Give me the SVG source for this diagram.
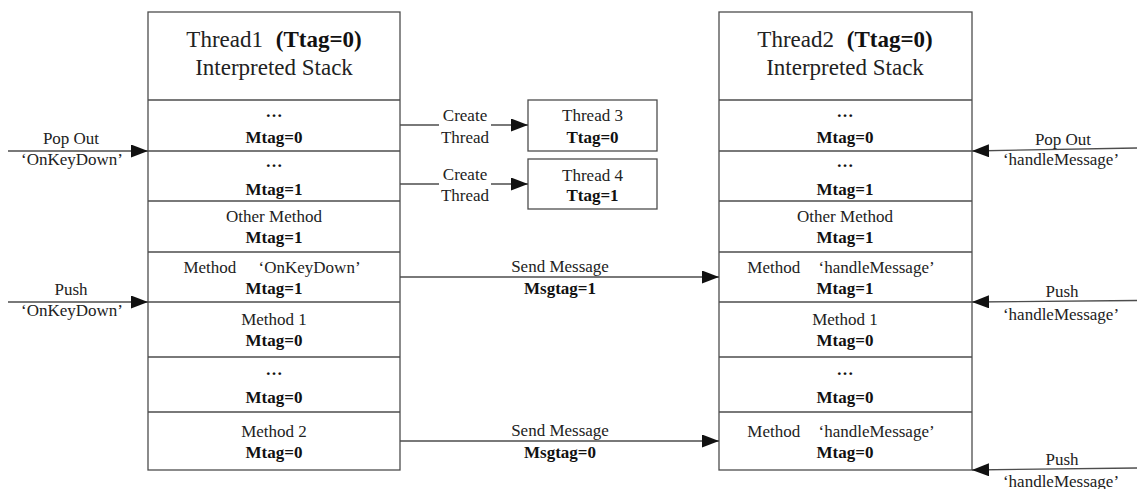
<svg xmlns="http://www.w3.org/2000/svg" width="1137" height="489" viewBox="0 0 1137 489">
  <style>
    .box { fill: #ffffff; stroke: #4d4d4d; stroke-width: 1.3; }
    .wire { fill: none; stroke: #4d4d4d; stroke-width: 1.3; }
    .txt { font-family: "Liberation Serif", "Times New Roman", serif; font-size: 17px; fill: #222222; text-anchor: middle; }
    .head { font-size: 23px; }
    .b { font-weight: bold; fill: #111111; }
    .mask { fill: #ffffff; stroke: none; }
  </style>
  <defs>
    <marker id="arrow" markerUnits="userSpaceOnUse" markerWidth="18" markerHeight="14" refX="17" refY="6.5" orient="auto">
      <path d="M0,0 L17,6.5 L0,13 Z" fill="#111111"/>
    </marker>
  </defs>

  <rect width="1137" height="489" fill="#ffffff"/>

  <!-- Thread 1 interpreted stack -->
  <g id="thread1-stack">
    <rect class="box" x="148" y="12" width="252" height="458"/>
    <g class="wire">
      <line x1="148" y1="100" x2="400" y2="100"/>
      <line x1="148" y1="151" x2="400" y2="151"/>
      <line x1="148" y1="201" x2="400" y2="201"/>
      <line x1="148" y1="252" x2="400" y2="252"/>
      <line x1="148" y1="302" x2="400" y2="302"/>
      <line x1="148" y1="357" x2="400" y2="357"/>
      <line x1="148" y1="412" x2="400" y2="412"/>
    </g>
    <text class="txt head" x="274" y="47">Thread1 <tspan class="b" dx="7">(Ttag=0)</tspan></text>
    <text class="txt head" x="274" y="75">Interpreted Stack</text>
    <g id="t1-frame1"><text class="txt b" x="274" y="117">…</text><text class="txt b" x="274" y="143">Mtag=0</text></g>
    <g id="t1-frame2"><text class="txt b" x="274" y="167">…</text><text class="txt b" x="274" y="195">Mtag=1</text></g>
    <g id="t1-frame3"><text class="txt" x="274" y="222">Other Method</text><text class="txt b" x="274" y="243">Mtag=1</text></g>
    <g id="t1-frame4"><text class="txt" x="272" y="273">Method <tspan dx="18">‘OnKeyDown’</tspan></text><text class="txt b" x="274" y="294">Mtag=1</text></g>
    <g id="t1-frame5"><text class="txt" x="274" y="325">Method 1</text><text class="txt b" x="274" y="346">Mtag=0</text></g>
    <g id="t1-frame6"><text class="txt b" x="274" y="375">…</text><text class="txt b" x="274" y="403">Mtag=0</text></g>
    <g id="t1-frame7"><text class="txt" x="274" y="437">Method 2</text><text class="txt b" x="274" y="458">Mtag=0</text></g>
  </g>

  <!-- Thread 2 interpreted stack -->
  <g id="thread2-stack">
    <rect class="box" x="719" y="12" width="253" height="458"/>
    <g class="wire">
      <line x1="719" y1="100" x2="972" y2="100"/>
      <line x1="719" y1="151" x2="972" y2="151"/>
      <line x1="719" y1="201" x2="972" y2="201"/>
      <line x1="719" y1="252" x2="972" y2="252"/>
      <line x1="719" y1="302" x2="972" y2="302"/>
      <line x1="719" y1="357" x2="972" y2="357"/>
      <line x1="719" y1="412" x2="972" y2="412"/>
    </g>
    <text class="txt head" x="845" y="47">Thread2 <tspan class="b" dx="7">(Ttag=0)</tspan></text>
    <text class="txt head" x="845" y="75">Interpreted Stack</text>
    <g id="t2-frame1"><text class="txt b" x="845" y="117">…</text><text class="txt b" x="845" y="143">Mtag=0</text></g>
    <g id="t2-frame2"><text class="txt b" x="845" y="167">…</text><text class="txt b" x="845" y="195">Mtag=1</text></g>
    <g id="t2-frame3"><text class="txt" x="845" y="222">Other Method</text><text class="txt b" x="845" y="243">Mtag=1</text></g>
    <g id="t2-frame4"><text class="txt" x="841" y="273">Method <tspan dx="14">‘handleMessage’</tspan></text><text class="txt b" x="845" y="294">Mtag=1</text></g>
    <g id="t2-frame5"><text class="txt" x="845" y="325">Method 1</text><text class="txt b" x="845" y="346">Mtag=0</text></g>
    <g id="t2-frame6"><text class="txt b" x="845" y="375">…</text><text class="txt b" x="845" y="403">Mtag=0</text></g>
    <g id="t2-frame7"><text class="txt" x="841" y="437">Method <tspan dx="14">‘handleMessage’</tspan></text><text class="txt b" x="845" y="458">Mtag=0</text></g>
  </g>

  <!-- Spawned threads -->
  <g id="thread3">
    <rect class="box" x="528" y="100" width="129" height="51"/>
    <text class="txt" x="592.5" y="121">Thread 3</text>
    <text class="txt b" x="592.5" y="143">Ttag=0</text>
  </g>
  <g id="thread4">
    <rect class="box" x="528" y="159" width="129" height="50"/>
    <text class="txt" x="592.5" y="181">Thread 4</text>
    <text class="txt b" x="592.5" y="201">Ttag=1</text>
  </g>

  <!-- Connectors -->
  <g id="connectors">
    <!-- create thread -->
    <line class="wire" x1="400" y1="125" x2="528" y2="125" marker-end="url(#arrow)"/>
    <line class="wire" x1="400" y1="184" x2="528" y2="184" marker-end="url(#arrow)"/>
    <rect class="mask" x="439" y="106" width="52" height="42"/>
    <rect class="mask" x="439" y="165" width="52" height="42"/>
    <text class="txt" x="465" y="121">Create</text>
    <text class="txt" x="465" y="143">Thread</text>
    <text class="txt" x="465" y="180">Create</text>
    <text class="txt" x="465" y="201">Thread</text>

    <!-- send message -->
    <line class="wire" x1="400" y1="277" x2="719" y2="277" marker-end="url(#arrow)"/>
    <text class="txt" x="560" y="272">Send Message</text>
    <text class="txt b" x="560" y="294">Msgtag=1</text>
    <line class="wire" x1="400" y1="441" x2="719" y2="441" marker-end="url(#arrow)"/>
    <text class="txt" x="560" y="436">Send Message</text>
    <text class="txt b" x="560" y="458">Msgtag=0</text>

    <!-- thread 1 push / pop -->
    <line class="wire" x1="8" y1="151" x2="148" y2="151" marker-end="url(#arrow)"/>
    <text class="txt" x="71" y="144">Pop Out</text>
    <text class="txt" x="72" y="165">‘OnKeyDown’</text>
    <line class="wire" x1="8" y1="302" x2="148" y2="302" marker-end="url(#arrow)"/>
    <text class="txt" x="71" y="295">Push</text>
    <text class="txt" x="72" y="316">‘OnKeyDown’</text>

    <!-- thread 2 push / pop -->
    <line class="wire" x1="1137" y1="148" x2="972" y2="151" marker-end="url(#arrow)"/>
    <text class="txt" x="1063" y="145">Pop Out</text>
    <text class="txt" x="1061" y="165">‘handleMessage’</text>
    <line class="wire" x1="1137" y1="300.5" x2="972" y2="302" marker-end="url(#arrow)"/>
    <text class="txt" x="1062" y="297">Push</text>
    <text class="txt" x="1061" y="320">‘handleMessage’</text>
    <line class="wire" x1="1137" y1="468" x2="972" y2="470" marker-end="url(#arrow)"/>
    <text class="txt" x="1062" y="465">Push</text>
    <text class="txt" x="1061" y="487">‘handleMessage’</text>
  </g>
</svg>
